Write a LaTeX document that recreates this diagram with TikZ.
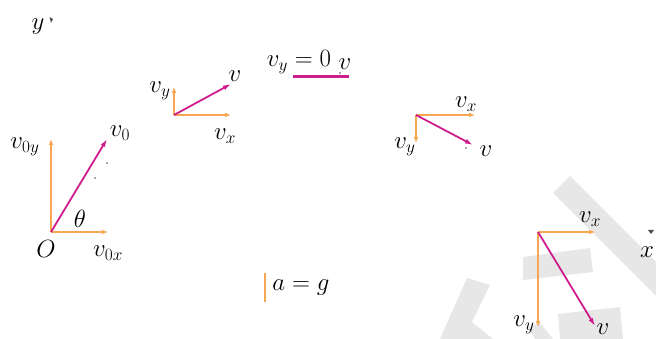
\documentclass[tikz,border=0pt]{standalone}
\usetikzlibrary{arrows.meta}
\definecolor{vor}{RGB}{247,166,84}
\definecolor{vmag}{RGB}{206,28,140}
\definecolor{wm}{RGB}{231,231,231}
\begin{document}
\begin{tikzpicture}[x=1pt,y=-1pt,
  comp/.style={vor, line width=1.6pt, -{Latex[length=6pt,width=5pt]}},
  vel/.style={vmag, line width=1.8pt, -{Latex[length=8pt,width=5pt]}},
  lab/.style={inner sep=0pt, font=\fontsize{25}{30}\selectfont},
  wmark/.style={fill=wm, draw=none},
  speck/.style={fill=black!70, draw=none}]
\useasboundingbox (0,0) rectangle (656,339);
% watermark
\fill[wmark] (553,193) -- (570,176) -- (656,262) -- (656,296) -- cycle;
\fill[wmark] (523,257) -- (590,248) -- (593,272) -- (523,280) -- cycle;
\fill[wmark] (558,314) -- (620,307) -- (623,339) -- (560,339) -- cycle;
\fill[wmark] (440,339) -- (467,278) -- (490,285) -- (472,322) -- (493,339) -- cycle;
\fill[wmark] (528,327) -- (540,323) -- (553,339) -- (535,339) -- cycle;
% axes remnants
\node[lab] (ylab) at (38,27) {$y$};
\fill[speck] (49.5,17) -- (53,19) -- (51,23) -- cycle;
\node[lab] (xlab) at (647,252) {$x$};
\fill[speck] (648,230) -- (654,230) -- (651,234) -- cycle;
% figure 1
\coordinate (O1) at (51,232);
\coordinate (O1y) at (51,139);
\coordinate (O1x) at (108,232);
\coordinate (O1v) at (107,139);
\draw[comp] (O1) -- (O1y);
\draw[comp] (O1) -- (O1x);
\draw[vel] (O1) -- (O1v);
\fill[speck] (107,163) circle (0.8);
\fill[speck] (95,178) circle (0.8);
\node[lab] (l0y) at (25,147) {$v_{0y}$};
\node[lab] (l0) at (120,133) {$v_0$};
\node[lab] (lth) at (80,219) {$\theta$};
\node[lab] (lO) at (46,249) {$O$};
\node[lab] (l0x) at (108,253) {$v_{0x}$};
% figure 2
\coordinate (O2) at (174,115);
\coordinate (O2y) at (174,87);
\coordinate (O2x) at (231,115);
\coordinate (O2v) at (231,84);
\draw[comp] (O2) -- (O2y);
\draw[comp] (O2) -- (O2x);
\draw[vel] (O2) -- (O2v);
\node[lab] (l2y) at (160,91) {$v_y$};
\node[lab] (l2v) at (235,76) {$v$};
\node[lab] (l2x) at (225,136) {$v_x$};
% figure 3 (top)
\coordinate (O3) at (293,77);
\coordinate (O3v) at (349,77);
\draw[vmag, line width=3pt] (O3) -- (O3v);
\fill[speck] (340,73) circle (0.8);
\node[lab] (l3) at (299,62) {$v_y = 0$};
\node[lab] (l3v) at (345,64) {$v$};
% figure 4
\coordinate (O4) at (416,115);
\coordinate (O4x) at (475,115);
\coordinate (O4y) at (416,143);
\coordinate (O4v) at (473,145);
\draw[comp] (O4) -- (O4x);
\draw[comp] (O4) -- (O4y);
\draw[vel] (O4) -- (O4v);
\fill[speck] (466,148) circle (0.8);
\node[lab] (l4x) at (466,104) {$v_x$};
\node[lab] (l4y) at (405,147) {$v_y$};
\node[lab] (l4v) at (486,151) {$v$};
% figure 5
\coordinate (O5) at (538,232);
\coordinate (O5x) at (595,232);
\coordinate (O5y) at (538,327);
\coordinate (O5v) at (595,326);
\draw[comp] (O5) -- (O5x);
\draw[comp] (O5) -- (O5y);
\draw[vel] (O5) -- (O5v);
\node[lab] (l5x) at (590,219) {$v_x$};
\node[lab] (l5y) at (524,325) {$v_y$};
\node[lab] (l5v) at (603,329) {$v$};
% acceleration
\coordinate (a1) at (265,273);
\coordinate (a2) at (265,302);
\draw[vor, line width=2.5pt] (a1) -- (a2);
\node[lab] (lag) at (301,288) {$a = g$};
\end{tikzpicture}
\end{document}
